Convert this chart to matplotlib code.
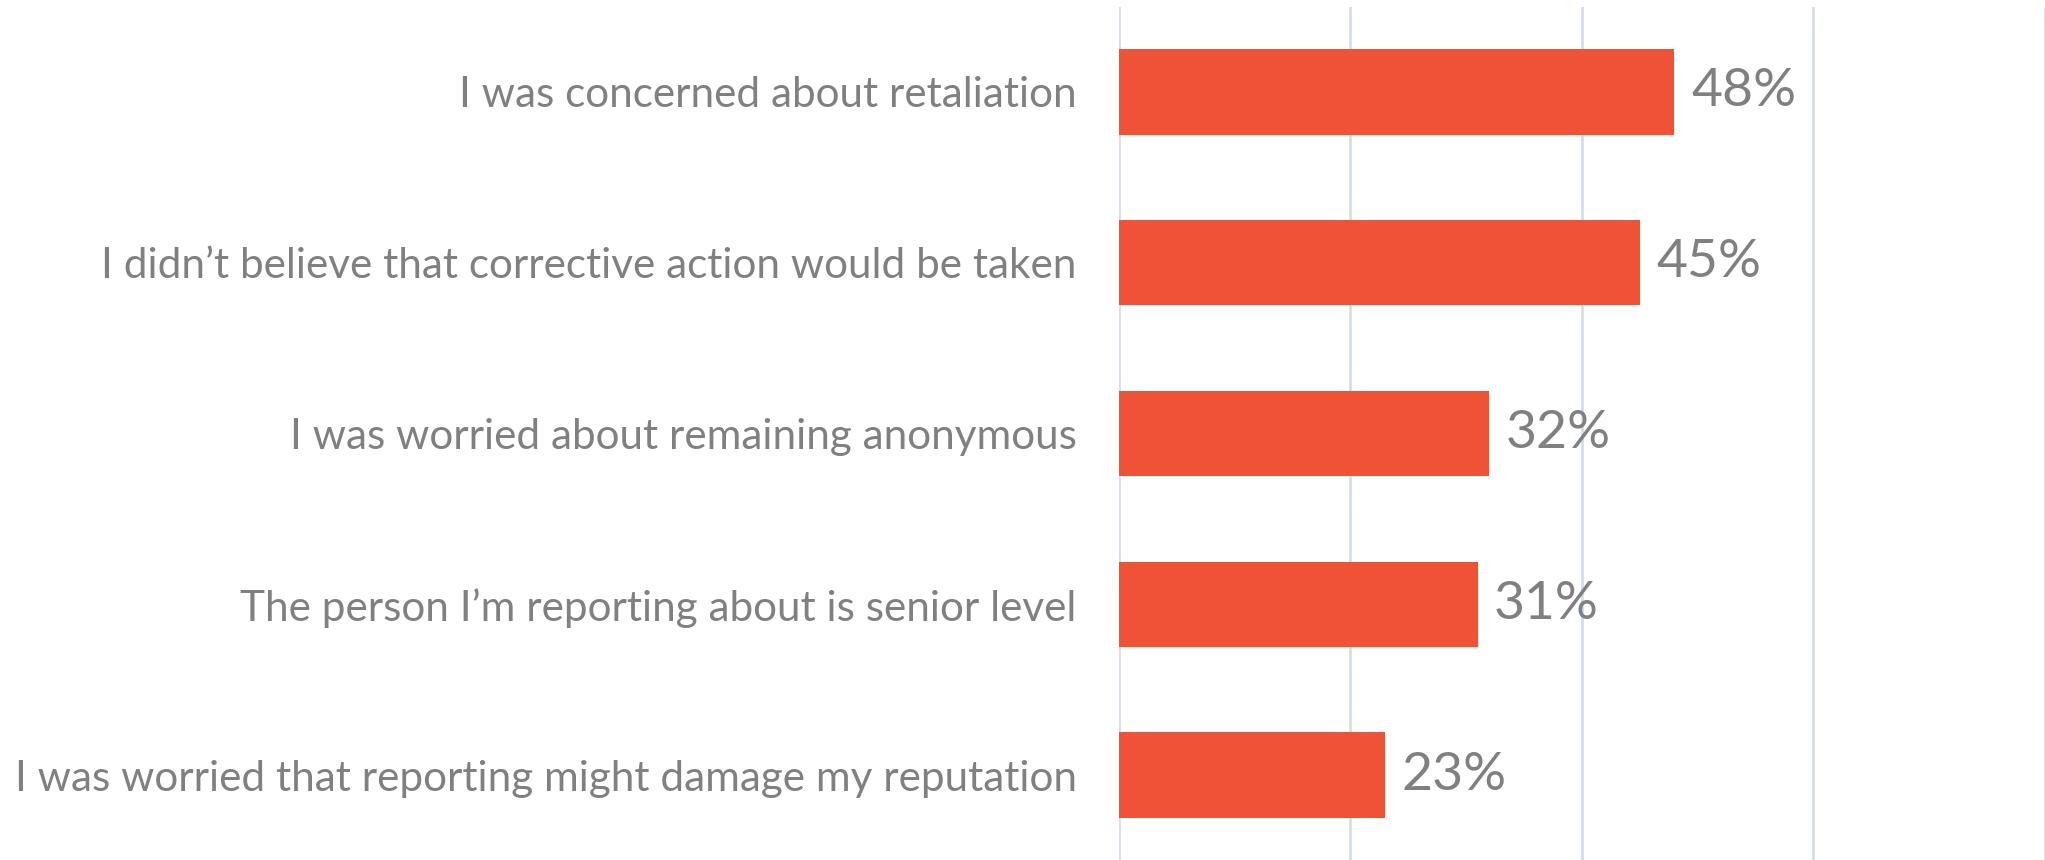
import matplotlib.pyplot as plt

# Survey answers (top to bottom) and their shares in percent
reasons = [
    "I was concerned about retaliation",
    "I didn\u2019t believe that corrective action would be taken",
    "I was worried about remaining anonymous",
    "The person I\u2019m reporting about is senior level",
    "I was worried that reporting might damage my reputation",
]
shares = [48, 45, 32, 31, 23]
grid_ticks = [0, 20, 40, 60, 80]

bar_color = '#EF5234'
text_color = '#808080'
grid_color = '#D5DEE8'

plt.rcParams['font.family'] = ['Lato', 'DejaVu Sans']

fig = plt.figure(figsize=(20.45, 8.6), dpi=100)
left = 1118.5 / 2045
ax = fig.add_axes([left, -0.0006, 1 - left, 0.9930])

ypos = list(range(len(reasons)))
ax.barh(ypos, shares, height=0.5, color=bar_color, zorder=3)

for y, v in zip(ypos, shares):
    ax.annotate('%d%%' % v, xy=(v, y), xytext=(12, 0), textcoords='offset points',
                va='center', ha='left', fontsize=38.5, color=text_color)

ax.set_xlim(0, 79.36)
ax.set_ylim(len(reasons) - 0.5, -0.5)
ax.set_xticks(grid_ticks)
ax.set_xticklabels([])
ax.tick_params(axis='x', length=0)
ax.grid(axis='x', color=grid_color, linewidth=2, zorder=0)

ax.set_yticks(ypos)
ax.set_yticklabels(reasons, fontsize=30.4, color=text_color)
ax.tick_params(axis='y', length=0, pad=30)

for s in ax.spines.values():
    s.set_visible(False)

fig.savefig('out.png', dpi=100)
